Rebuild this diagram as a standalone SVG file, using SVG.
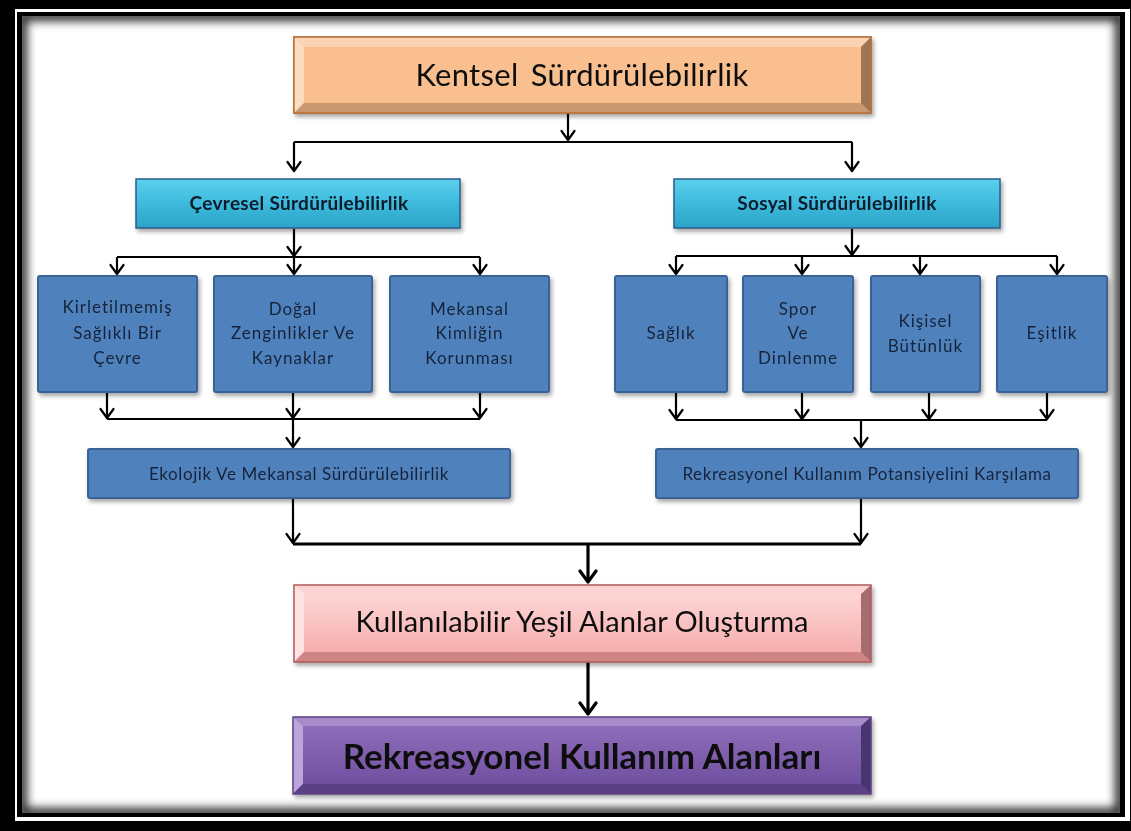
<svg xmlns="http://www.w3.org/2000/svg" width="1131" height="831" viewBox="0 0 1131 831">
<defs>
<style>
.ln{fill:none;stroke:#000;stroke-width:2.2}
.lnb{fill:none;stroke:#000;stroke-width:3.2}
.bl{fill:#4F81BD;stroke:#3A6294;stroke-width:2}
.cy{fill:url(#gCy);stroke:#2B5C8A;stroke-width:1.5}
.tb{font-family:Lato,"Liberation Sans",sans-serif;font-size:17px;fill:#16243A;text-anchor:middle;letter-spacing:1px}
.t1{font-family:Lato,"Liberation Sans",sans-serif;font-size:17px;fill:#16243A;text-anchor:middle;letter-spacing:0.6px}
.tc{font-family:Lato,"Liberation Sans",sans-serif;font-size:19px;font-weight:bold;fill:#0E1A2A;text-anchor:middle;letter-spacing:0.3px}
.tbig{font-family:Lato,"Liberation Sans",sans-serif;fill:#111;text-anchor:middle}
</style>
<linearGradient id="gCy" x1="0" y1="0" x2="0" y2="1">
<stop offset="0" stop-color="#5BD0EC"/><stop offset="0.5" stop-color="#3DBADD"/><stop offset="1" stop-color="#2BA3C7"/>
</linearGradient>
<linearGradient id="gPk" x1="0" y1="0" x2="0" y2="1">
<stop offset="0" stop-color="#FFDCDC"/><stop offset="1" stop-color="#F4A7A7"/>
</linearGradient>
<linearGradient id="gPu" x1="0" y1="0" x2="0" y2="1">
<stop offset="0" stop-color="#9273BE"/><stop offset="1" stop-color="#6B4A9C"/>
</linearGradient>
<filter id="sh" x="-10%" y="-20%" width="120%" height="150%">
<feDropShadow dx="2" dy="3" stdDeviation="2" flood-color="#000" flood-opacity="0.35"/>
</filter>
<filter id="blur" x="-5%" y="-5%" width="110%" height="110%">
<feGaussianBlur stdDeviation="5"/>
</filter>
<clipPath id="inner"><rect x="22" y="16" width="1098" height="797"/></clipPath>
<marker id="ar" markerUnits="userSpaceOnUse" viewBox="-12 -9 14 18" refX="0" refY="0" markerWidth="14" markerHeight="18" orient="auto">
<path d="M-9,-6.5 L0,0 L-9,6.5" fill="none" stroke="#000" stroke-width="2.2" stroke-linecap="round" stroke-linejoin="round"/>
</marker>
<marker id="arb" markerUnits="userSpaceOnUse" viewBox="-14 -10 16 20" refX="0" refY="0" markerWidth="16" markerHeight="20" orient="auto">
<path d="M-11,-8 L0,0 L-11,8" fill="none" stroke="#000" stroke-width="3.2" stroke-linecap="round" stroke-linejoin="round"/>
</marker>
</defs>

<g id="frame">
<rect x="0" y="0" width="1131" height="831" fill="#000"/>
<rect x="15" y="9" width="1115" height="812" fill="#fff"/>
<rect x="17" y="12" width="1108" height="805" fill="#000"/>
<rect x="22" y="16" width="1098" height="797" fill="#fff"/>
<g clip-path="url(#inner)"><rect x="22" y="16" width="1098" height="797" fill="none" stroke="#000" stroke-width="10" filter="url(#blur)" opacity="0.85"/></g>
</g>

<g id="connectors">
<path class="ln" d="M294,142 H852"/>
<path class="ln" d="M568,113 V140" marker-end="url(#ar)"/>
<path class="ln" d="M294,142 V171" marker-end="url(#ar)"/>
<path class="ln" d="M852,142 V171" marker-end="url(#ar)"/>

<path class="ln" d="M117,257 H480"/>
<path class="ln" d="M294,229 V256" marker-end="url(#ar)"/>
<path class="ln" d="M117,257 V274" marker-end="url(#ar)"/>
<path class="ln" d="M294,257 V274" marker-end="url(#ar)"/>
<path class="ln" d="M480,257 V274" marker-end="url(#ar)"/>

<path class="ln" d="M676,256 H1057"/>
<path class="ln" d="M852,229 V255" marker-end="url(#ar)"/>
<path class="ln" d="M676,256 V274" marker-end="url(#ar)"/>
<path class="ln" d="M802,256 V274" marker-end="url(#ar)"/>
<path class="ln" d="M920,256 V274" marker-end="url(#ar)"/>
<path class="ln" d="M1057,256 V274" marker-end="url(#ar)"/>

<path class="ln" d="M107,419 H480"/>
<path class="ln" d="M107,393 V418" marker-end="url(#ar)"/>
<path class="ln" d="M293,393 V418" marker-end="url(#ar)"/>
<path class="ln" d="M480,393 V418" marker-end="url(#ar)"/>
<path class="ln" d="M293,419 V447" marker-end="url(#ar)"/>

<path class="ln" d="M676,420 H1047"/>
<path class="ln" d="M676,393 V419" marker-end="url(#ar)"/>
<path class="ln" d="M802,393 V419" marker-end="url(#ar)"/>
<path class="ln" d="M929,393 V419" marker-end="url(#ar)"/>
<path class="ln" d="M1047,393 V419" marker-end="url(#ar)"/>
<path class="ln" d="M861,420 V447" marker-end="url(#ar)"/>

<path class="lnb" d="M293,544 H861"/>
<path class="ln" d="M293,499 V543" marker-end="url(#ar)"/>
<path class="ln" d="M861,499 V543" marker-end="url(#ar)"/>
<path class="lnb" d="M588,544 V582" marker-end="url(#arb)"/>
<path class="lnb" d="M588,662 V714" marker-end="url(#arb)"/>
</g>

<g id="n-kentsel" filter="url(#sh)">
<rect x="294" y="37" width="577" height="76" fill="#F9BF8F" stroke="#B8713A" stroke-width="1.5"/>
<polygon points="294,37 871,37 861,47 304,47" fill="#FAD3B2"/>
<polygon points="294,37 304,47 304,103 294,113" fill="#FCDCC0"/>
<polygon points="294,113 304,103 861,103 871,113" fill="#C9976F"/>
<polygon points="871,37 871,113 861,103 861,47" fill="#A07556"/>
<rect x="294" y="37" width="577" height="76" fill="none" stroke="#B8713A" stroke-width="1.5"/>
<text class="tbig" x="582" y="86" font-size="31" word-spacing="4" letter-spacing="0.3">Kentsel Sürdürülebilirlik</text>
</g>

<g id="n-cevresel" filter="url(#sh)">
<rect class="cy" x="136" y="179" width="324" height="49"/>
<text class="tc" x="299" y="210">Çevresel Sürdürülebilirlik</text>
</g>
<g id="n-sosyal" filter="url(#sh)">
<rect class="cy" x="674" y="179" width="326" height="49"/>
<text class="tc" x="837" y="210">Sosyal Sürdürülebilirlik</text>
</g>

<g id="n-kirletilmemis" filter="url(#sh)">
<rect class="bl" x="38" y="276" width="159" height="116" rx="2"/>
<text class="tb" x="117.5" y="313">Kirletilmemiş</text>
<text class="tb" x="117.5" y="339">Sağlıklı Bir</text>
<text class="tb" x="117.5" y="364">Çevre</text>
</g>
<g id="n-dogal" filter="url(#sh)">
<rect class="bl" x="214" y="276" width="158" height="116" rx="2"/>
<text class="tb" x="293" y="315">Doğal</text>
<text class="tb" x="293" y="339">Zenginlikler Ve</text>
<text class="tb" x="293" y="364">Kaynaklar</text>
</g>
<g id="n-mekansal" filter="url(#sh)">
<rect class="bl" x="390" y="276" width="159" height="116" rx="2"/>
<text class="tb" x="469.5" y="315">Mekansal</text>
<text class="tb" x="469.5" y="339">Kimliğin</text>
<text class="tb" x="469.5" y="364">Korunması</text>
</g>
<g id="n-saglik" filter="url(#sh)">
<rect class="bl" x="615" y="276" width="112" height="116" rx="2"/>
<text class="tb" x="671" y="339">Sağlık</text>
</g>
<g id="n-spor" filter="url(#sh)">
<rect class="bl" x="743" y="276" width="110" height="116" rx="2"/>
<text class="tb" x="798" y="315">Spor</text>
<text class="tb" x="798" y="339">Ve</text>
<text class="tb" x="798" y="364">Dinlenme</text>
</g>
<g id="n-kisisel" filter="url(#sh)">
<rect class="bl" x="871" y="276" width="109" height="116" rx="2"/>
<text class="tb" x="925.5" y="327">Kişisel</text>
<text class="tb" x="925.5" y="352">Bütünlük</text>
</g>
<g id="n-esitlik" filter="url(#sh)">
<rect class="bl" x="997" y="276" width="110" height="116" rx="2"/>
<text class="tb" x="1052" y="339">Eşitlik</text>
</g>

<g id="n-ekolojik" filter="url(#sh)">
<rect class="bl" x="88" y="449" width="422" height="49" rx="2"/>
<text class="t1" x="299" y="480">Ekolojik Ve Mekansal Sürdürülebilirlik</text>
</g>
<g id="n-rekreasyonel-potansiyel" filter="url(#sh)">
<rect class="bl" x="656" y="449" width="422" height="49" rx="2"/>
<text class="t1" x="867" y="480">Rekreasyonel Kullanım Potansiyelini Karşılama</text>
</g>

<g id="n-kullanilabilir" filter="url(#sh)">
<rect x="294" y="585" width="577" height="77" fill="url(#gPk)"/>
<polygon points="294,585 871,585 861,594 304,594" fill="#FCD3D3"/>
<polygon points="294,585 304,594 304,652 294,662" fill="#FEE3E3"/>
<polygon points="294,662 304,652 861,652 871,662" fill="#D08585"/>
<polygon points="871,585 871,662 861,652 861,594" fill="#A56D6D"/>
<rect x="294" y="585" width="577" height="77" fill="none" stroke="#B05A5A" stroke-width="1.5"/>
<text class="tbig" x="582" y="632" font-size="29">Kullanılabilir Yeşil Alanlar Oluşturma</text>
</g>

<g id="n-rekreasyonel-alanlar" filter="url(#sh)">
<rect x="293" y="717" width="578" height="77" fill="url(#gPu)"/>
<polygon points="293,717 871,717 861,726 303,726" fill="#A78BCB"/>
<polygon points="293,717 303,726 303,784 293,794" fill="#BCA5DA"/>
<polygon points="293,794 303,784 861,784 871,794" fill="#5B3F86"/>
<polygon points="871,717 871,794 861,784 861,726" fill="#4A346F"/>
<rect x="293" y="717" width="578" height="77" fill="none" stroke="#5C4280" stroke-width="1.5"/>
<text class="tbig" x="582" y="769" font-size="35" font-weight="bold" fill="#1A1420">Rekreasyonel Kullanım Alanları</text>
</g>
</svg>
